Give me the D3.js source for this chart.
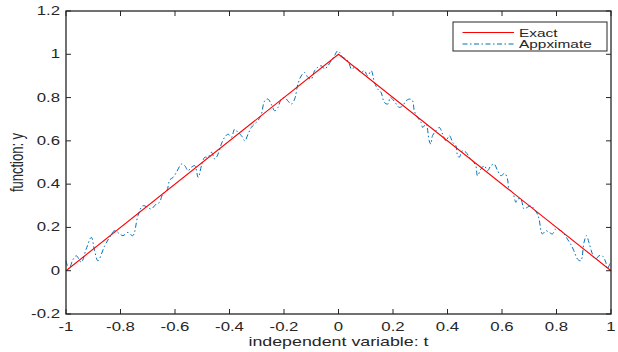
<!DOCTYPE html>
<html>
<head>
<meta charset="utf-8">
<script src="https://cdn.jsdelivr.net/npm/d3@7"></script>
<style>
  body { margin: 0; background: #fff; }
  text { font-family: "Liberation Sans", Arial, sans-serif; fill: #262626; }
</style>
</head>
<body>
<svg id="chart" width="618" height="352"></svg>
<script>
// exact solution (triangle)
const exactT = [-1, 0, 1];
const exactY = [0, 1, 0];

// approximate solution
const approxT = [-1.0, -0.989, -0.975, -0.962, -0.944, -0.926, -0.907, -0.895, -0.883, -0.858, -0.840, -0.822, -0.803, -0.791, -0.773, -0.755, -0.736, -0.718, -0.700, -0.688, -0.669, -0.657, -0.645, -0.630, -0.619, -0.607, -0.595, -0.576, -0.564, -0.552, -0.540, -0.527, -0.515, -0.503, -0.491, -0.479, -0.466, -0.454, -0.442, -0.430, -0.418, -0.405, -0.393, -0.381, -0.369, -0.356, -0.344, -0.332, -0.320, -0.308, -0.296, -0.283, -0.271, -0.259, -0.247, -0.234, -0.222, -0.210, -0.198, -0.186, -0.173, -0.161, -0.149, -0.137, -0.125, -0.112, -0.100, -0.088, -0.076, -0.063, -0.051, -0.039, -0.027, -0.015, -0.003, 0.004, 0.016, 0.028, 0.040, 0.047, 0.059, 0.071, 0.083, 0.095, 0.107, 0.120, 0.132, 0.144, 0.156, 0.168, 0.181, 0.190, 0.200, 0.212, 0.222, 0.234, 0.248, 0.260, 0.272, 0.278, 0.290, 0.303, 0.309, 0.321, 0.333, 0.339, 0.345, 0.358, 0.370, 0.382, 0.394, 0.407, 0.419, 0.431, 0.437, 0.443, 0.455, 0.468, 0.480, 0.492, 0.504, 0.510, 0.523, 0.535, 0.547, 0.559, 0.571, 0.584, 0.596, 0.610, 0.620, 0.626, 0.639, 0.651, 0.657, 0.669, 0.681, 0.693, 0.706, 0.718, 0.730, 0.736, 0.748, 0.761, 0.773, 0.785, 0.797, 0.816, 0.828, 0.840, 0.852, 0.864, 0.877, 0.889, 0.901, 0.910, 0.919, 0.932, 0.944, 0.956, 0.968, 0.981, 0.986, 0.993, 1.0];
const approxY = [0.046, 0.008, 0.05, 0.069, 0.039, 0.10, 0.154, 0.092, 0.046, 0.115, 0.154, 0.185, 0.17, 0.162, 0.177, 0.162, 0.254, 0.30, 0.293, 0.285, 0.308, 0.316, 0.354, 0.37, 0.42, 0.431, 0.454, 0.493, 0.485, 0.462, 0.478, 0.485, 0.431, 0.485, 0.524, 0.524, 0.547, 0.516, 0.539, 0.585, 0.616, 0.631, 0.616, 0.654, 0.639, 0.624, 0.60, 0.631, 0.662, 0.678, 0.693, 0.724, 0.785, 0.793, 0.77, 0.739, 0.755, 0.793, 0.80, 0.785, 0.77, 0.793, 0.862, 0.90, 0.916, 0.893, 0.885, 0.924, 0.94, 0.947, 0.932, 0.947, 0.97, 0.993, 1.016, 1.009, 0.986, 0.978, 0.955, 0.932, 0.939, 0.932, 0.916, 0.924, 0.90, 0.924, 0.87, 0.839, 0.824, 0.778, 0.77, 0.80, 0.79, 0.77, 0.755, 0.76, 0.785, 0.793, 0.785, 0.739, 0.708, 0.685, 0.662, 0.678, 0.60, 0.585, 0.624, 0.647, 0.662, 0.631, 0.60, 0.624, 0.593, 0.577, 0.531, 0.524, 0.554, 0.547, 0.524, 0.508, 0.485, 0.439, 0.47, 0.485, 0.462, 0.485, 0.493, 0.462, 0.439, 0.45, 0.424, 0.377, 0.362, 0.316, 0.331, 0.331, 0.285, 0.293, 0.30, 0.285, 0.262, 0.239, 0.17, 0.185, 0.177, 0.17, 0.192, 0.185, 0.17, 0.146, 0.123, 0.092, 0.054, 0.046, 0.131, 0.162, 0.131, 0.077, 0.054, 0.069, 0.069, 0.039, 0.008, 0.023, 0.046];

const xTicks = [-1, -0.8, -0.6, -0.4, -0.2, 0, 0.2, 0.4, 0.6, 0.8, 1];
const yTicks = [-0.2, 0, 0.2, 0.4, 0.6, 0.8, 1, 1.2];
const legendLabels = ["Exact", "Appximate"];

const STRETCH = 1.4; // picture is stretched sideways
const margin = { left: 66, right: 7, top: 11, bottom: 38 };
const W = 618, H = 352;

const svg = d3.select("#chart");
const x = d3.scaleLinear().domain([-1, 1]).range([margin.left, W - margin.right]);
const y = d3.scaleLinear().domain([-0.2, 1.2]).range([H - margin.bottom, margin.top]);
const axisColor = "#262626";
const tickLen = 5;

// box
svg.append("rect")
   .attr("x", x(-1)).attr("y", y(1.2))
   .attr("width", x(1) - x(-1)).attr("height", y(-0.2) - y(1.2))
   .attr("fill", "#fff");

// lines
const lineExact = d3.line().x(i => x(exactT[i])).y(i => y(exactY[i]));
const lineApprox = d3.line().x(i => x(approxT[i])).y(i => y(approxY[i])).curve(d3.curveCatmullRom);

svg.append("path")
   .attr("d", lineApprox(d3.range(approxT.length)))
   .attr("fill", "none").attr("stroke", "#0072BD").attr("stroke-width", 1)
   .attr("stroke-dasharray", "5,2.5,1.5,2.5");

svg.append("path")
   .attr("d", lineExact(d3.range(exactT.length)))
   .attr("fill", "none").attr("stroke", "#ff0000").attr("stroke-width", 1.1);

// ticks (inward, all four sides)
const tg = svg.append("g").attr("stroke", axisColor).attr("stroke-width", 1);
xTicks.forEach(t => {
	tg.append("line").attr("x1", x(t)).attr("x2", x(t)).attr("y1", y(-0.2)).attr("y2", y(-0.2) - tickLen);
	tg.append("line").attr("x1", x(t)).attr("x2", x(t)).attr("y1", y(1.2)).attr("y2", y(1.2) + tickLen);
});
yTicks.forEach(v => {
	tg.append("line").attr("x1", x(-1)).attr("x2", x(-1) + tickLen).attr("y1", y(v)).attr("y2", y(v));
	tg.append("line").attr("x1", x(1)).attr("x2", x(1) - tickLen).attr("y1", y(v)).attr("y2", y(v));
});

svg.append("rect")
   .attr("x", x(-1)).attr("y", y(1.2))
   .attr("width", x(1) - x(-1)).attr("height", y(-0.2) - y(1.2))
   .attr("fill", "none").attr("stroke", axisColor).attr("stroke-width", 1.3);

// tick labels
const fmt = v => String(+v.toFixed(1));
xTicks.forEach(t => {
	svg.append("text")
	   .attr("transform", `translate(${x(t)},${H - margin.bottom + 17}) scale(${STRETCH},1)`)
	   .attr("text-anchor", "middle").attr("font-size", 12)
	   .text(fmt(t));
});
yTicks.forEach(v => {
	svg.append("text")
	   .attr("transform", `translate(${x(-1) - 6},${y(v) + 4}) scale(${STRETCH},1)`)
	   .attr("text-anchor", "end").attr("font-size", 12)
	   .text(fmt(v));
});

// axis titles
svg.append("text")
   .attr("transform", `translate(${(x(-1) + x(1)) / 2},${H - 6}) scale(1.37,1)`)
   .attr("text-anchor", "middle").attr("font-size", 13)
   .text("independent variable: t");

svg.append("text")
   .attr("transform", `translate(23,${y(0.5)}) rotate(-90) scale(1,1.37)`)
   .attr("text-anchor", "middle").attr("font-size", 13)
   .text("function: y");

// legend
const lg = svg.append("g").attr("transform", "translate(453,22)");
lg.append("rect").attr("width", 154).attr("height", 29)
  .attr("fill", "#fff").attr("stroke", axisColor).attr("stroke-width", 1);
const legendStyles = [
	{ color: "#ff0000", dash: null },
	{ color: "#0072BD", dash: "5,2.5,1.5,2.5" }
];
legendLabels.forEach((lab, i) => {
	const yy = 10.5 + i * 11.5;
	lg.append("line").attr("x1", 9.5).attr("x2", 61).attr("y1", yy).attr("y2", yy)
	  .attr("stroke", legendStyles[i].color).attr("stroke-width", 1)
	  .attr("stroke-dasharray", legendStyles[i].dash);
	lg.append("text")
	  .attr("transform", `translate(66,${yy + 4}) scale(${STRETCH},1)`)
	  .attr("font-size", 11)
	  .text(lab);
});
</script>
</body>
</html>
